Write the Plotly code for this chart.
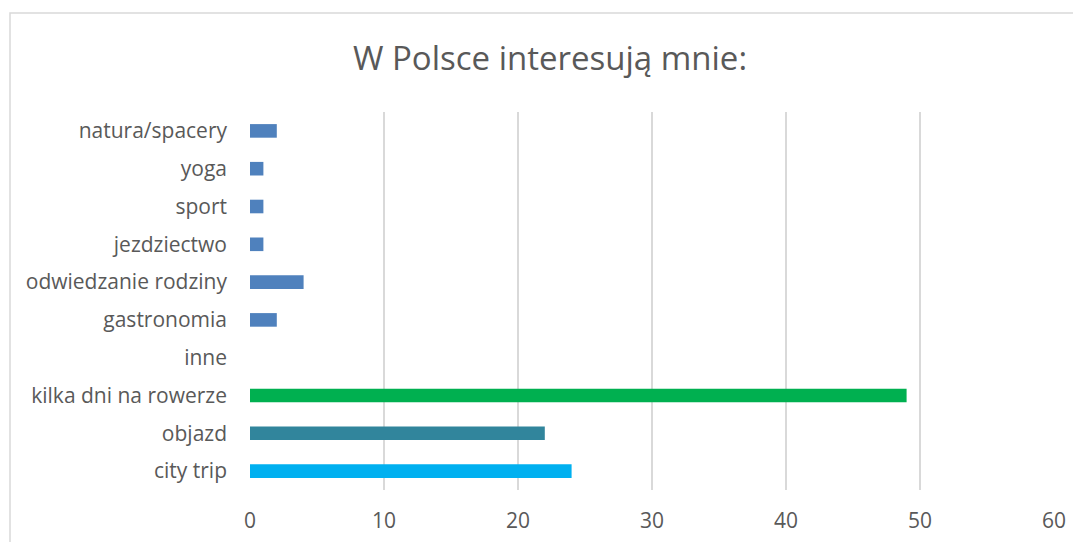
import plotly.graph_objects as go

categories = ['city trip', 'objazd', 'kilka dni na rowerze', 'inne', 'gastronomia',
              'odwiedzanie rodziny', 'jezdziectwo', 'sport', 'yoga', 'natura/spacery']
values = [24, 22, 49, 0, 2, 4, 1, 1, 1, 2]
bar_colors = ['#00B0F0', '#31859C', '#00B050', '#4F81BD', '#4F81BD',
              '#4F81BD', '#4F81BD', '#4F81BD', '#4F81BD', '#4F81BD']
x_ticks = [0, 10, 20, 30, 40, 50, 60]

# page body has an 8px margin, so shift everything back by that
OFF = 8
W, H = 1081 - OFF, 542 - OFF
L, R, T, B = 250 - OFF, 27, 112 - OFF, 52
pw, ph = W - L - R, H - T - B


def px_x(p):
    return (p - OFF - L) / pw


def px_y(p):
    return (H - B - (p - OFF)) / ph


trace = go.Bar(
    x=values,
    y=categories,
    orientation='h',
    width=0.36,
    marker=dict(color=bar_colors, line=dict(width=0)),
)

layout = go.Layout(
    width=W, height=H,
    margin=dict(l=L, r=R, t=T, b=B),
    paper_bgcolor='white', plot_bgcolor='white',
    font=dict(family='Open Sans', color='#595959', size=21),
    title=dict(text='W Polsce interesują mnie:', x=(550 - OFF) / W, xanchor='center',
               y=1 - (58 - OFF) / H, yanchor='middle', yref='container',
               font=dict(size=33, color='#595959')),
    xaxis=dict(range=[0, 60], tickvals=x_ticks, showgrid=True, gridcolor='#d9d9d9',
               gridwidth=1.6, zeroline=False, showline=False, ticks='',
               ticklabelstandoff=16, tickfont=dict(size=21), automargin=False),
    yaxis=dict(showgrid=False, zeroline=False, showline=False, ticks='',
               ticklabelstandoff=22, tickfont=dict(size=21), automargin=False),
    showlegend=False,
    shapes=[dict(type='rect', xref='paper', yref='paper',
                 x0=px_x(10), x1=px_x(1200), y0=px_y(700), y1=px_y(13),
                 line=dict(color='#d9d9d9', width=1.5), layer='below')],
)

fig = go.Figure(data=[trace], layout=layout)
fig.write_html('out.html')
